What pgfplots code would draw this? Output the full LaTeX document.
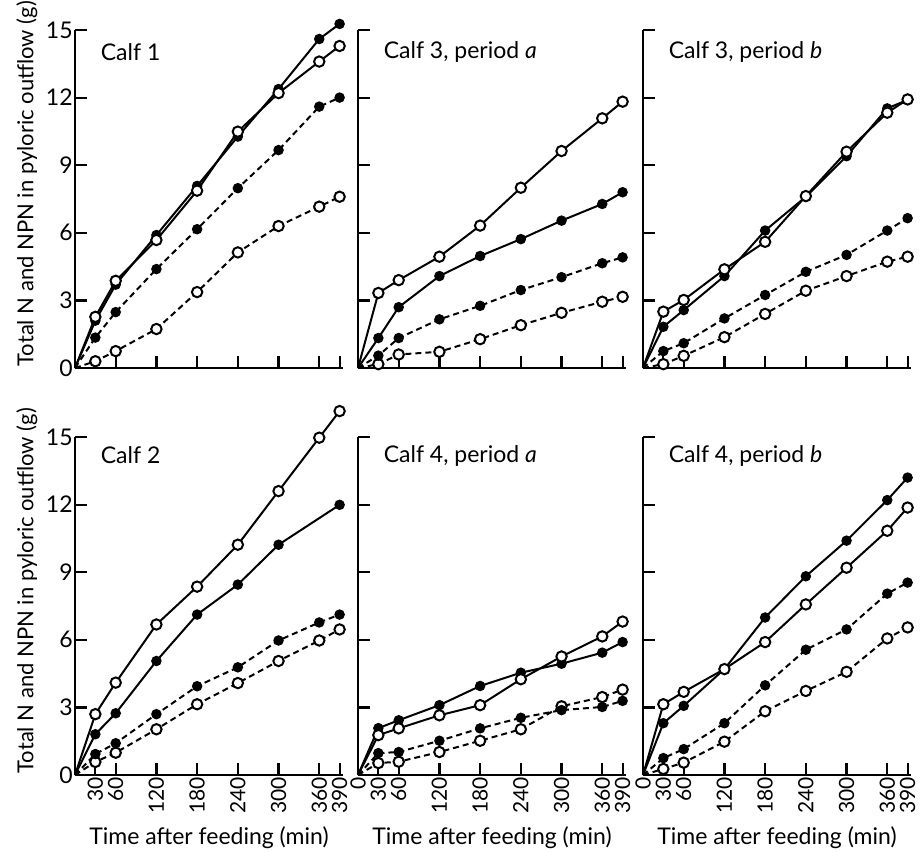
\documentclass[border=0pt]{standalone}
\usepackage{fontspec}
\setmainfont{Lato}
\usepackage{pgfplots}
\pgfplotsset{compat=1.18}

\pgfplotsset{
  calf/.style={
    scale only axis, width=134pt, height=169pt,
    xmin=0, xmax=395, ymin=0, ymax=15,
    axis x line*=bottom, axis y line*=left,
    axis line style={line width=1.1pt, -},
    tick align=inside, major tick length=6pt,
    every tick/.style={line width=1.1pt, black},
    xtick={0,30,60,120,180,240,300,360,390},
    ytick={0,3,6,9,12,15},
    xticklabels={}, yticklabels={},
    anchor=origin, clip=false,
    font=\fontsize{11.5}{13}\selectfont,
    /pgf/number format/assume math mode=true,
    x tick label style={rotate=90, anchor=east, inner sep=1pt, font=\fontsize{10.5}{12}\selectfont},
    y tick label style={inner sep=0pt, xshift=-1pt},
    ylabel style={at={(axis description cs:-0.18,0.545)}, anchor=center, rotate=0, font=\fontsize{11}{13}\selectfont},
    xlabel style={at={(axis description cs:0.5,-0.185)}, anchor=center},
  },
  bottomrow/.style={xticklabels={0,30,60,120,180,240,300,360,390}, xlabel={Time after feeding (min)}},
  firstcol/.style={yticklabels={0,3,6,9,12,15}, ylabel={Total N and NPN in pyloric outflow (g)}},
  sf/.style={black, line width=1pt, solid, mark=*, mark size=2.1pt, mark indices={2,3,4,5,6,7,8,9}, mark options={solid, fill=black}},
  so/.style={black, line width=1pt, solid, mark=*, mark size=2.6pt, mark indices={2,3,4,5,6,7,8,9}, mark options={solid, fill=white, line width=1pt}},
  df/.style={sf, dash pattern=on 3pt off 2pt},
  do/.style={so, dash pattern=on 3pt off 2pt},
}

\begin{document}
\begin{tikzpicture}
\useasboundingbox (0,0) rectangle (460pt,-425.5pt);

% Calf 1
\begin{axis}[calf, firstcol, at={(37.5pt,-184pt)}]
\addplot[do] coordinates {(0,0)(30,0.3)(60,0.75)(120,1.73)(180,3.37)(240,5.13)(300,6.3)(360,7.16)(390,7.6)};
\addplot[df] coordinates {(0,0)(30,1.35)(60,2.48)(120,4.39)(180,6.16)(240,7.98)(300,9.67)(360,11.6)(390,12.0)};
\addplot[sf] coordinates {(0,0)(30,2.1)(60,3.7)(120,5.9)(180,8.08)(240,10.27)(300,12.38)(360,14.6)(390,15.27)};
\addplot[so] coordinates {(0,0)(30,2.27)(60,3.87)(120,5.68)(180,7.87)(240,10.49)(300,12.2)(360,13.6)(390,14.29)};
\node[anchor=west] at (axis description cs:0.07,0.935) {Calf 1};
\end{axis}

% Calf 3, period a
\begin{axis}[calf, at={(179pt,-184pt)}]
\addplot[do] coordinates {(0,0)(30,0.17)(60,0.6)(120,0.72)(180,1.28)(240,1.9)(300,2.45)(360,2.94)(390,3.16)};
\addplot[df] coordinates {(0,0)(30,0.55)(60,1.33)(120,2.16)(180,2.76)(240,3.46)(300,4.03)(360,4.65)(390,4.91)};
\addplot[sf] coordinates {(0,0)(30,1.33)(60,2.7)(120,4.08)(180,4.97)(240,5.72)(300,6.54)(360,7.28)(390,7.8)};
\addplot[so] coordinates {(0,0)(30,3.33)(60,3.9)(120,4.94)(180,6.32)(240,8.0)(300,9.63)(360,11.08)(390,11.82)};
\node[anchor=west] at (axis description cs:0.07,0.935) {Calf 3, period \textit{a}};
\end{axis}

% Calf 3, period b
\begin{axis}[calf, at={(321.5pt,-184pt)}]
\addplot[do] coordinates {(0,0)(30,0.17)(60,0.54)(120,1.37)(180,2.4)(240,3.43)(300,4.08)(360,4.72)(390,4.94)};
\addplot[df] coordinates {(0,0)(30,0.75)(60,1.1)(120,2.2)(180,3.24)(240,4.27)(300,5.02)(360,6.1)(390,6.65)};
\addplot[sf] coordinates {(0,0)(30,1.83)(60,2.57)(120,4.08)(180,6.1)(240,7.6)(300,9.4)(360,11.52)(390,11.9)};
\addplot[so] coordinates {(0,0)(30,2.5)(60,3.02)(120,4.38)(180,5.6)(240,7.63)(300,9.6)(360,11.33)(390,11.92)};
\node[anchor=west] at (axis description cs:0.07,0.935) {Calf 3, period \textit{b}};
\end{axis}

% Calf 2
\begin{axis}[calf, firstcol, bottomrow, xticklabels={,30,60,120,180,240,300,360,390}, at={(37.5pt,-387.5pt)}]
\addplot[do] coordinates {(0,0)(30,0.58)(60,0.99)(120,2.03)(180,3.14)(240,4.08)(300,5.06)(360,5.97)(390,6.46)};
\addplot[df] coordinates {(0,0)(30,0.93)(60,1.41)(120,2.7)(180,3.94)(240,4.78)(300,5.97)(360,6.77)(390,7.12)};
\addplot[sf] coordinates {(0,0)(30,1.81)(60,2.74)(120,5.06)(180,7.12)(240,8.45)(300,10.22)(390,11.99)};
\addplot[so] coordinates {(0,0)(30,2.7)(60,4.1)(120,6.68)(180,8.36)(240,10.22)(300,12.6)(360,14.97)(390,16.15)};
\node[anchor=west] at (axis description cs:0.07,0.945) {Calf 2};
\end{axis}

% Calf 4, period a
\begin{axis}[calf, bottomrow, at={(179pt,-387.5pt)}]
\addplot[do] coordinates {(0,0)(30,0.53)(60,0.59)(120,1.02)(180,1.52)(240,2.03)(300,3.05)(360,3.46)(390,3.79)};
\addplot[df] coordinates {(0,0)(30,0.97)(60,1.02)(120,1.52)(180,2.07)(240,2.54)(300,2.88)(360,3.02)(390,3.29)};
\addplot[sf] coordinates {(0,0)(30,2.08)(60,2.43)(120,3.1)(180,3.95)(240,4.54)(300,4.94)(360,5.43)(390,5.9)};
\addplot[so] coordinates {(0,0)(30,1.77)(60,2.07)(120,2.65)(180,3.1)(240,4.25)(300,5.26)(360,6.15)(390,6.81)};
\node[anchor=west] at (axis description cs:0.07,0.945) {Calf 4, period \textit{a}};
\end{axis}

% Calf 4, period b
\begin{axis}[calf, bottomrow, at={(321.5pt,-387.5pt)}]
\addplot[do] coordinates {(0,0)(30,0.27)(60,0.55)(120,1.48)(180,2.83)(240,3.73)(300,4.58)(360,6.06)(390,6.55)};
\addplot[df] coordinates {(0,0)(30,0.75)(60,1.15)(120,2.3)(180,3.98)(240,5.56)(300,6.46)(360,8.05)(390,8.54)};
\addplot[sf] coordinates {(0,0)(30,2.3)(60,3.07)(120,4.7)(180,6.99)(240,8.82)(300,10.4)(360,12.2)(390,13.2)};
\addplot[so] coordinates {(0,0)(30,3.14)(60,3.69)(120,4.7)(180,5.9)(240,7.57)(300,9.2)(360,10.84)(390,11.87)};
\node[anchor=west] at (axis description cs:0.07,0.945) {Calf 4, period \textit{b}};
\end{axis}
\end{tikzpicture}
\end{document}
